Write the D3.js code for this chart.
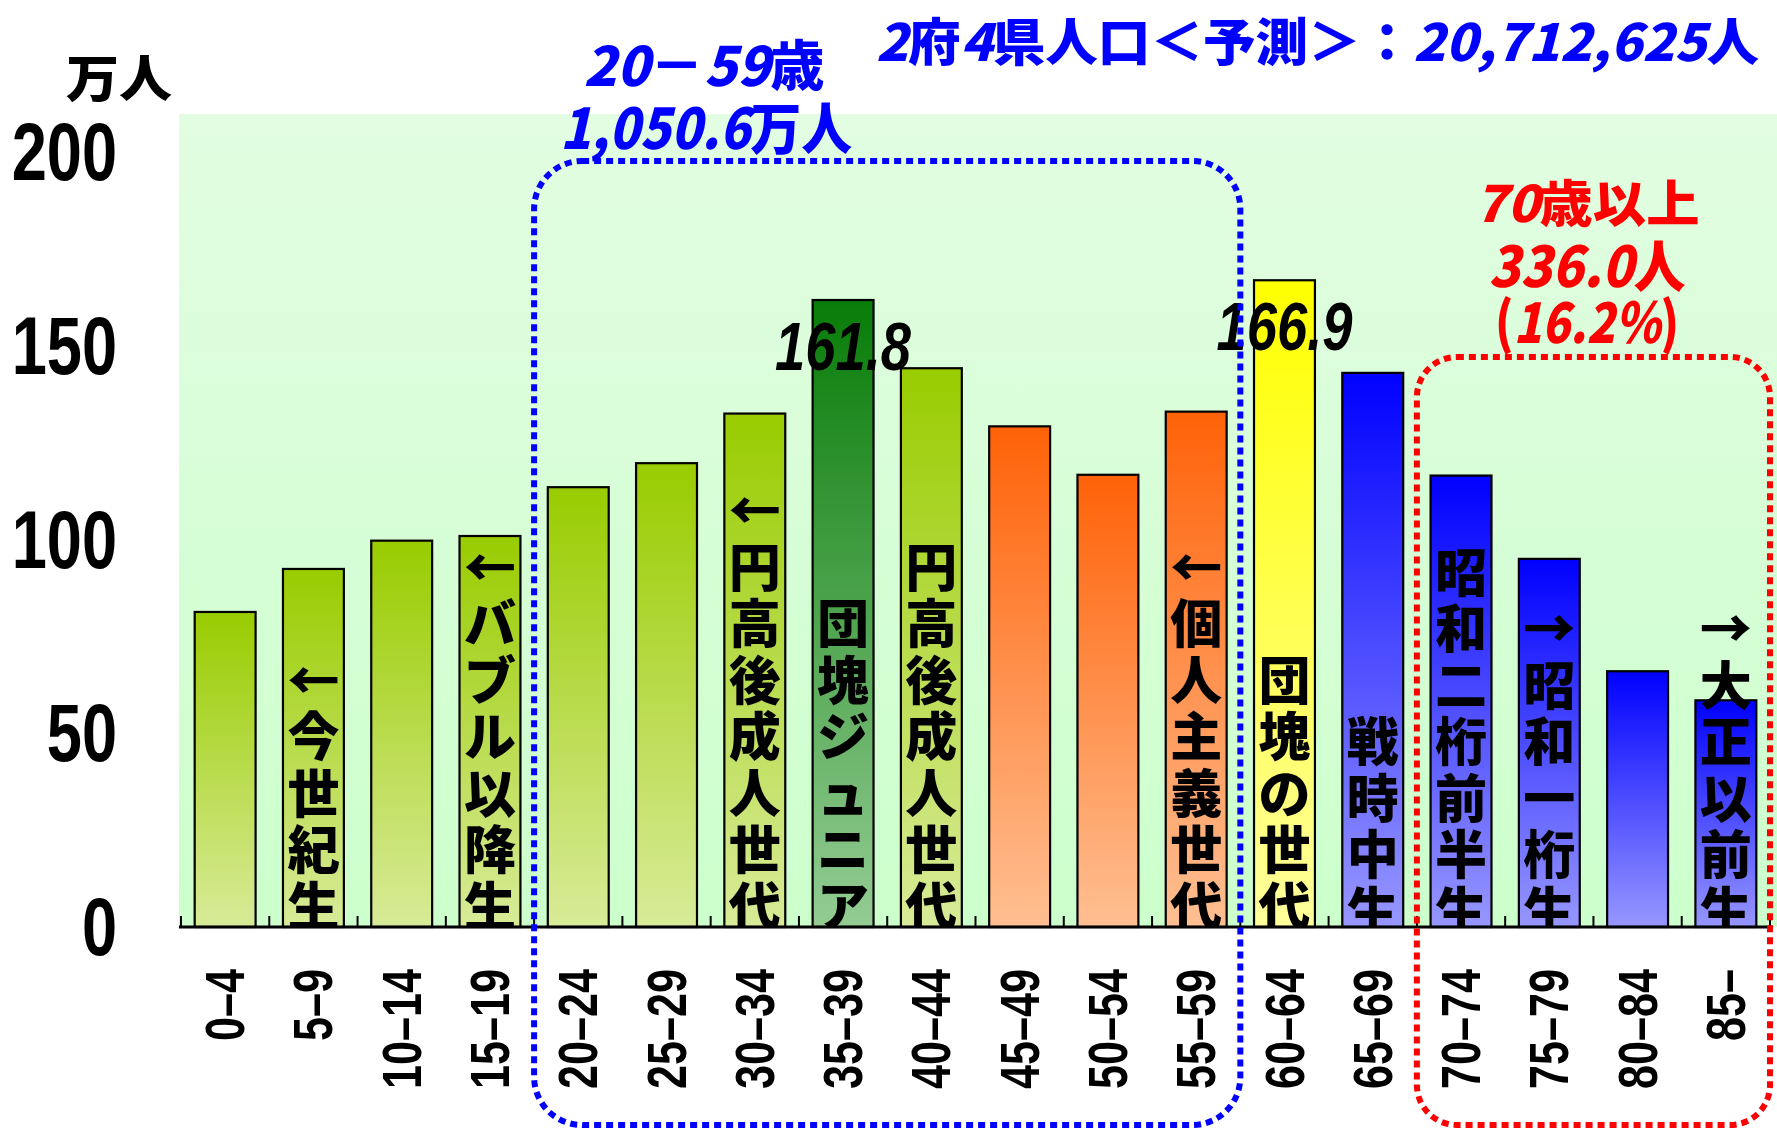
<!DOCTYPE html>
<html><head><meta charset="utf-8">
<script src="https://cdn.jsdelivr.net/npm/d3@7"></script>
<style>html,body{margin:0;padding:0;background:#fff;}svg{display:block;}</style>
</head><body>
<svg id="chart" width="1777" height="1131"></svg>
<script>
// ---- data ----
const categories = ["0–4","5–9","10–14","15–19","20–24","25–29","30–34","35–39","40–44","45–49","50–54","55–59","60–64","65–69","70–74","75–79","80–84","85–"];
const values = [81.3, 92.4, 99.7, 100.9, 113.5, 119.7, 132.5, 161.8, 144.2, 129.2, 116.7, 133.0, 166.9, 143.0, 116.5, 95.0, 66.0, 58.5];
const colorGroups = ["g","g","g","g","g","g","g","dg","g","o","o","o","y","b","b","b","b","b"];
const generationLabels = ["", "←今世紀生", "", "←バブル以降生", "", "", "←円高後成人世代", "団塊ジュニア", "円高後成人世代", "", "", "←個人主義世代", "団塊の世代", "戦時中生", "昭和二桁前半生", "→昭和一桁生", "", "→大正以前生"];
const valueLabels = {"35–39":"161.8", "60–64":"166.9"};
const yTicks = [0, 50, 100, 150, 200];
const unitLabel = "万人";
const titleText = "2府4県人口＜予測＞：20,712,625人";
const blueGroup = {from:"20–24", to:"55–59", lines:["20－59歳","1,050.6万人"]};
const redGroup = {from:"70–74", to:"85–", lines:["70歳以上","336.0人","(16.2%)"]};

const gradStops = {
  g:  ["#99cc00", "#d8eb98"],
  dg: ["#087c08", "#94cc94"],
  o:  ["#ff6208", "#ffbf92"],
  y:  ["#ffff00", "#ffff9c"],
  b:  ["#0000ff", "#9797ff"]
};

// ---- layout ----
const svg = d3.select("#chart");
const baseY = 927;
const x = d3.scaleBand().domain(categories).range([181, 1770]).paddingInner(0.31).paddingOuter(0.155);
const y = d3.scaleLinear().domain([0, 200]).range([baseY, 152]);
const step = x.step();
const bound = i => x.range()[0] + i * step;
const jp = "'Noto Sans CJK JP', 'Noto Sans', sans-serif";
const lat = "'Liberation Sans', Arial, sans-serif";

const defs = svg.append("defs");
const bg = defs.append("linearGradient").attr("id","bgGrad").attr("x1",0).attr("y1",0).attr("x2",0).attr("y2",1);
bg.append("stop").attr("offset","0%").attr("stop-color","#e2fde2");
bg.append("stop").attr("offset","100%").attr("stop-color","#ccffcc");
Object.entries(gradStops).forEach(([k, s]) => {
  const g = defs.append("linearGradient").attr("id","grad_"+k).attr("x1",0).attr("y1",0).attr("x2",0).attr("y2",1);
  g.append("stop").attr("offset","0%").attr("stop-color", s[0]);
  g.append("stop").attr("offset","100%").attr("stop-color", s[1]);
});
defs.append("clipPath").attr("id","plotClip").append("rect")
  .attr("x",0).attr("y",0).attr("width",1777).attr("height",baseY);

// helper: text with slanted digit runs (pop-font look)
function popText(sel, str) {
  const runs = str.match(/[0-9,.%]+|[^0-9,.%]+/g);
  runs.forEach(r => {
    const isNum = /^[0-9,.%]+$/.test(r);
    sel.append("tspan").attr("font-style", isNum ? "italic" : "normal").text(r);
  });
  return sel;
}

// plot background
svg.append("rect").attr("x",179).attr("y",114).attr("width",1777-179).attr("height",baseY-114).attr("fill","url(#bgGrad)");

// bars
svg.append("g").selectAll("rect").data(categories).join("rect")
  .attr("x", d => x(d)).attr("width", x.bandwidth())
  .attr("y", (d,i) => y(values[i])).attr("height", (d,i) => baseY - y(values[i]))
  .attr("fill", (d,i) => "url(#grad_" + colorGroups[i] + ")")
  .attr("stroke", "#000").attr("stroke-width", 2.2);

// vertical generation labels inside bars
const lblG = svg.append("g").attr("clip-path","url(#plotClip)");
const pitch = 56.5;
categories.forEach((c, i) => {
  const chars = Array.from(generationLabels[i]);
  const n = chars.length;
  const cx = x(c) + x.bandwidth() / 2;
  const lastY = colorGroups[i] === "b" ? baseY - 19 : baseY - 24;
  chars.forEach((ch, j) => {
    lblG.append("text")
      .attr("x", cx).attr("y", lastY - (n - 1 - j) * pitch)
      .attr("text-anchor","middle").attr("dominant-baseline","central")
      .attr("font-family", jp).attr("font-weight", 900).attr("font-size", 52)
      .attr("fill","#000").text(ch);
  });
});

// x axis baseline and ticks
svg.append("line").attr("x1", bound(0) - 2).attr("x2", bound(categories.length) + 2)
  .attr("y1", baseY).attr("y2", baseY).attr("stroke","#000").attr("stroke-width",3);
svg.append("g").selectAll("line").data(d3.range(categories.length + 1)).join("line")
  .attr("x1", i => bound(i)).attr("x2", i => bound(i))
  .attr("y1", baseY).attr("y2", baseY - 11).attr("stroke","#000").attr("stroke-width",2);

// x tick labels (rotated, condensed)
svg.append("g").selectAll("text").data(categories).join("text")
  .attr("transform", d => `translate(${x(d) + x.bandwidth()/2},969) rotate(-90) scale(0.77,1)`)
  .attr("text-anchor","end").attr("dominant-baseline","central")
  .attr("font-family", lat).attr("font-weight","bold").attr("font-size",56)
  .attr("fill","#000").text(d => d);

// y tick labels
svg.append("g").selectAll("text").data(yTicks).join("text")
  .attr("transform", d => `translate(117,${y(d)}) scale(0.77,1)`)
  .attr("text-anchor","end").attr("dominant-baseline","central")
  .attr("font-family", lat).attr("font-weight","bold").attr("font-size",82)
  .attr("fill","#000").text(d => d);

// unit label
svg.append("text").attr("x",119).attr("y",97).attr("text-anchor","middle")
  .attr("font-family", jp).attr("font-weight",900).attr("font-size",50).attr("fill","#000")
  .attr("textLength",106).attr("lengthAdjust","spacingAndGlyphs").text(unitLabel);

// value labels
categories.forEach((c, i) => {
  if (!valueLabels[c]) return;
  svg.append("text").attr("x", x(c) + x.bandwidth()/2).attr("y", y(values[i]) + 70)
    .attr("text-anchor","middle").attr("font-family", lat).attr("font-weight","bold")
    .attr("font-style","italic").attr("font-size",68).attr("fill","#000")
    .attr("textLength",136).attr("lengthAdjust","spacingAndGlyphs").text(valueLabels[c]);
});

// group boxes
function groupBox(grp) {
  const i0 = categories.indexOf(grp.from), i1 = categories.indexOf(grp.to) + 1;
  return {x0: bound(i0), x1: bound(i1)};
}
const bb = groupBox(blueGroup);
svg.append("rect").attr("x", bb.x0).attr("y",161).attr("width", bb.x1 - bb.x0).attr("height", 1125 - 161)
  .attr("rx",48).attr("ry",48).attr("fill","none").attr("stroke","#0000ff")
  .attr("stroke-width",6).attr("stroke-dasharray","7 5");
const rb = groupBox(redGroup);
svg.append("rect").attr("x", rb.x0).attr("y",357).attr("width", rb.x1 - rb.x0).attr("height", 1125 - 357)
  .attr("rx",40).attr("ry",40).attr("fill","none").attr("stroke","#ff0000")
  .attr("stroke-width",6).attr("stroke-dasharray","7 5");

// title
popText(svg.append("text").attr("x",876).attr("y",61).attr("font-family", jp).attr("font-weight",900)
  .attr("font-size",51).attr("fill","#0000ff")
  .attr("textLength",883).attr("lengthAdjust","spacingAndGlyphs"), titleText);

// blue group text
const blueLines = [{t: blueGroup.lines[0], y: 86, w: 241, cx: 704, fs: 54},
                   {t: blueGroup.lines[1], y: 149, w: 292, cx: 706, fs: 56}];
blueLines.forEach(l => popText(svg.append("text").attr("x", l.cx).attr("y", l.y).attr("text-anchor","middle")
  .attr("font-family", jp).attr("font-weight",900).attr("font-size", l.fs)
  .attr("fill","#0000ff").attr("textLength", l.w).attr("lengthAdjust","spacingAndGlyphs"), l.t));

// red group text
const redLines = [{t: redGroup.lines[0], y: 222, w: 225, fs: 50},
                  {t: redGroup.lines[1], y: 287, w: 197, fs: 56},
                  {t: redGroup.lines[2], y: 343, w: 184, fs: 56}];
redLines.forEach(l => popText(svg.append("text").attr("x", 1587).attr("y", l.y).attr("text-anchor","middle")
  .attr("font-family", jp).attr("font-weight",900).attr("font-size", l.fs)
  .attr("fill","#ff0000").attr("textLength", l.w).attr("lengthAdjust","spacingAndGlyphs"), l.t));
</script>
</body></html>
